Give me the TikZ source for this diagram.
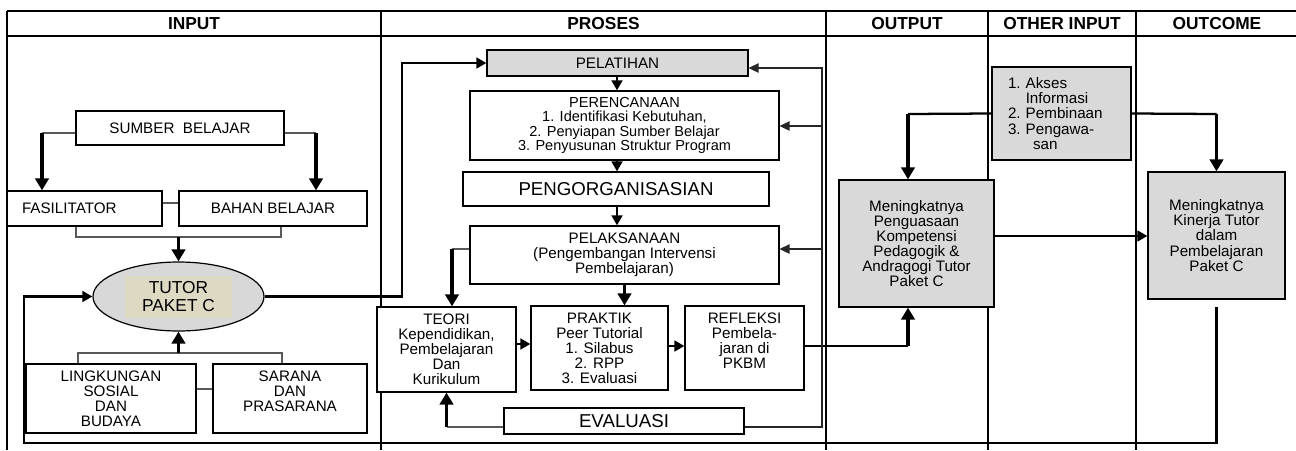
\documentclass[tikz,border=0pt]{standalone}
\usepackage{fontspec}
\setmainfont{Liberation Sans}
\usetikzlibrary{calc,arrows.meta,shapes.geometric}
\definecolor{boxgray}{RGB}{217,217,217}
\definecolor{ellgray}{RGB}{216,216,216}
\definecolor{tanbg}{RGB}{221,217,195}
\newcommand\fsn{\fontsize{11.4}{11.3}\selectfont}
\begin{document}
\begin{tikzpicture}[x=0.75pt,y=-0.75pt,
  bx/.style={draw=black, line width=0.9pt, rectangle, fill=white, inner sep=0pt, align=center, font=\fsn},
  wh/.style 2 args={minimum width=#1*0.75pt, minimum height=#2*0.75pt},
  gbox/.style={bx, fill=boxgray},
  tbl/.style={line width=0.9pt},
  hdr/.style={font=\bfseries\fontsize{13}{15}\selectfont},
  thinl/.style={draw=black!65, line width=0.8pt},
  thk/.style={line width=2.7pt, -{Triangle[length=9pt,width=10pt]}},
  med/.style={line width=1.7pt},
  meda/.style={line width=1.9pt, -{Triangle[length=7.5pt,width=8pt]}},
  fb/.style={draw=black!85, line width=1.3pt},
  fba/.style={fb, -{Triangle[length=7.5pt,width=7pt]}}
]
\fill[white] (0,0) rectangle (1296,450);
\useasboundingbox (0,0) rectangle (1296,450);

% table
\draw[tbl] (7,11) -- (1296,11);
\draw[tbl] (7,36) -- (1296,36);
\foreach \x in {7,381,826,988,1136} \draw[tbl] (\x,11) -- (\x,450);

\node[hdr] (hIn) at (194,24) {INPUT};
\node[hdr] (hPr) at (603.5,24) {PROSES};
\node[hdr] (hOut) at (907,24) {OUTPUT};
\node[hdr] (hOth) at (1062,24) {OTHER INPUT};
\node[hdr] (hOc) at (1217,24) {OUTCOME};

% INPUT
\node[bx, wh={208}{34}] (sumber) at (180,128) {SUMBER\ \ BELAJAR};
\node[bx, wh={155}{35}, text width=125*0.75pt, align=left] (fasil) at (84.5,208.5) {FASILITATOR};
\node[bx, wh={188}{35}] (bahan) at (273,208.5) {BAHAN BELAJAR};
\node[ellipse, draw, line width=0.9pt, fill=ellgray, minimum width=171*0.75pt, minimum height=69*0.75pt, inner sep=0pt] (tutor) at (178.5,296.5) {};
\node[fill=tanbg, wh={107}{42}, inner sep=0pt, align=center, font=\fontsize{13}{13.3}\selectfont] (tutortxt) at (tutor.center) {TUTOR\\PAKET C};
\node[bx, wh={170}{69}] (lingk) at (111,398.5) {LINGKUNGAN\\SOSIAL\\DAN\\BUDAYA};
\node[bx, wh={154}{69}] (sarana) at (290,398.5) {SARANA\\DAN\\PRASARANA\\\mbox{}};

% PROSES
\node[gbox, wh={261}{26}] (pel) at (617.5,63) {PELATIHAN};
\node[bx, wh={309}{69}, font=\fontsize{10.9}{10.9}\selectfont] (per) at (624.5,125.5) {PERENCANAAN\\1. Identifikasi Kebutuhan,\\2. Penyiapan Sumber Belajar\\3. Penyusunan Struktur Program};
\node[bx, wh={306}{34}, font=\fontsize{14}{16}\selectfont] (org) at (616,189) {PENGORGANISASIAN};
\node[bx, wh={309}{58}] (pelak) at (624.5,255) {PELAKSANAAN\\(Pengembangan Intervensi\\Pembelajaran)};
\node[bx, wh={139}{85}] (teori) at (446.5,349.5) {TEORI\\Kependidikan,\\Pembelajaran\\Dan\\Kurikulum};
\node[bx, wh={137}{84}] (prak) at (599.5,348) {PRAKTIK\\Peer Tutorial\\1. Silabus\\2. RPP\\3. Evaluasi};
\node[bx, wh={119}{84}] (refl) at (744.5,348) {REFLEKSI\\Pembela-\\jaran di\\PKBM\\\mbox{}};
\node[bx, wh={240}{26}, font=\fontsize{14}{16}\selectfont] (eval) at (624,421) {EVALUASI};

% OUTPUT / OTHER / OUTCOME
\node[gbox, wh={155}{127}] (out) at (916.5,243.5) {Meningkatnya\\Penguasaan\\Kompetensi\\Pedagogik \&\\Andragogi Tutor\\Paket C};
\node[gbox, wh={139}{93}, text width=107*0.75pt, align=left] (oth) at (1061.5,113.5) {1.\ Akses\\\phantom{1.\ }Informasi\\2.\ Pembinaan\\3.\ Pengawa-\\\hspace*{18.75pt}san};
\node[gbox, wh={137}{127}] (outc) at (1216.5,235.5) {Meningkatnya\\Kinerja Tutor\\dalam\\Pembelajaran\\Paket C};

% INPUT connectors
\coordinate (c1) at (42,133);
\coordinate (c2) at (316,133);
\draw[thinl] ($(sumber.west)+(0,5)$) -- (c1);
\draw[thk] (c1) -- (c1 |- fasil.north);
\draw[thinl] ($(sumber.east)+(0,5)$) -- (c2);
\draw[thk] (c2) -- (c2 |- bahan.north);
\draw[thinl] ($(fasil.east)+(0,-5.5)$) -- ($(bahan.west)+(0,-5.5)$);
\coordinate (b1l) at (76,237);
\coordinate (b1r) at (281,237);
\coordinate (b1) at (178.5,237);
\draw[thinl] (b1l |- fasil.south) -- (b1l) -- (b1r) -- (b1r |- bahan.south);
\draw[thk] (b1) -- (tutor.north);
\coordinate (b2l) at (78,353);
\coordinate (b2r) at (282,353);
\coordinate (b2) at (178.5,353);
\draw[thinl] (b2l |- lingk.north) -- (b2l) -- (b2r) -- (b2r |- sarana.north);
\draw[thk] (b2) -- (tutor.south);
\draw[thinl] ($(lingk.east)+(0,-9.5)$) -- ($(sarana.west)+(0,-9.5)$);

% tutor -> pelatihan
\coordinate (c3) at (402,63);
\draw[meda] (tutor.east) -| (c3) -- (pel.west);

% bottom feedback loop
\coordinate (c5) at (24,443);
\draw[meda] ($(outc.south)+(0,7)$) |- (c5) |- (tutor.west);

% PROSES connectors
\coordinate (x617) at (617,0);
\draw[meda] (pel.south -| x617) -- (per.north -| x617);
\draw[meda] (per.south -| x617) -- (org.north -| x617);
\draw[meda] (org.south -| x617) -- (pelak.north -| x617);
\draw[thk] (pelak.south) -- (pelak.south |- prak.north);
\coordinate (c6) at (452,249);
\draw[thinl] ($(pelak.west)+(0,-6)$) -- (c6);
\draw[thk] (c6) -- (c6 |- teori.north);
\draw[meda] ($(teori.east)+(0,-5.5)$) -- ($(prak.west)+(0,-4)$);
\draw[meda] ($(prak.east)+(0,-2)$) -- ($(refl.west)+(0,-2)$);
\coordinate (c7) at (908,346);
\draw[med] ($(refl.east)+(0,-2)$) -- (c7);
\draw[thk, line width=3.4pt] (c7) -- (c7 |- out.south);
\coordinate (c8) at (446.5,427);
\draw[thinl] ($(eval.west)+(0,6)$) -- (c8);
\draw[thk] (c8) -- (teori.south);
\coordinate (c9) at (822,68);
\draw[fba] ($(eval.east)+(0,6)$) -| (c9) -- (c9 -| pel.east);
\coordinate (c10) at (822,126);
\coordinate (c11) at (822,249);
\draw[fba] (c10) -- (c10 -| per.east);
\draw[fba] (c11) -- (c11 -| pelak.east);

% OTHER INPUT connectors
\coordinate (c12) at (908,114);
\coordinate (c13) at (1216.5,114);
\draw[med] (oth.west) -- (c12);
\draw[thk] (c12) -- (c12 |- out.north);
\draw[med] (oth.east) -- (c13);
\draw[thk] (c13) -- (outc.north);
\draw[meda] ($(out.east)+(0,-7.5)$) -- ($(outc.west)+(0,0.5)$);
\end{tikzpicture}
\end{document}
